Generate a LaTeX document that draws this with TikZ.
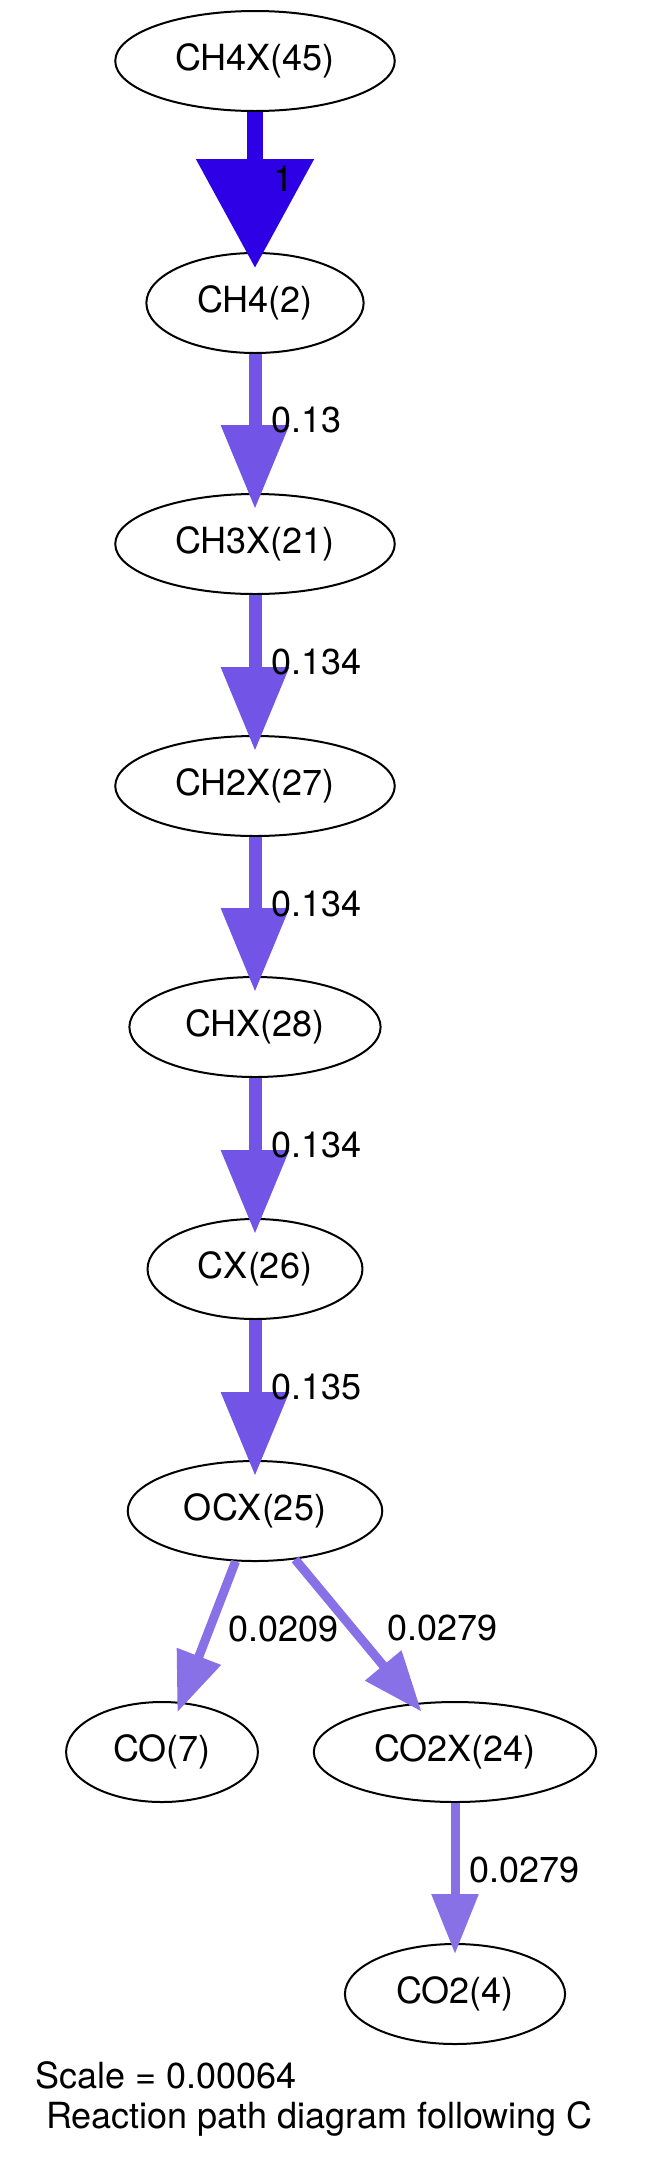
\documentclass[tikz,border=0pt]{standalone}
\usepackage{fontspec}
\setmainfont{TeX Gyre Heros}
\usepackage{tikz}
\usetikzlibrary{positioning,arrows.meta,shapes.geometric}
\definecolor{fluxtop}{HTML}{2E00E6}
\definecolor{fluxmid}{HTML}{7255E6}
\definecolor{fluxlow}{HTML}{8871E6}

\begin{document}
\begin{tikzpicture}[x=1pt,y=-1pt,every node/.style={font=\fontsize{36}{40}\selectfont}]
    \tikzstyle{sp}=[ellipse,draw,line width=2pt,minimum height=100pt,inner xsep=19pt,inner ysep=0pt];
    \tikzstyle{lbl}=[anchor=west,inner sep=0pt,yshift=3pt,black];
    \tikzstyle{flowtop}=[line width=16pt,fluxtop,-{Triangle[length=109pt,width=114pt]},shorten >=-16pt];
    \tikzstyle{flowmid}=[line width=13pt,fluxmid,-{Triangle[length=84pt,width=65pt]},shorten >=-16pt];
    \tikzstyle{flowlow}=[line width=9pt,fluxlow,-{Triangle[length=60pt,width=45pt]},shorten >=-11pt];
    \useasboundingbox (0,0) rectangle (653,2161);
    % --- main chain ---
    \node[sp] (ch4x) at (255,61)   {CH4X(45)};
    \node[sp] (ch4)  at (255,303)  {CH4(2)};
    \node[sp] (ch3x) at (255,544)  {CH3X(21)};
    \node[sp] (ch2x) at (255,786)  {CH2X(27)};
    \node[sp] (chx)  at (255,1027) {CHX(28)};
    \node[sp] (cx)   at (255,1269) {CX(26)};
    \node[sp] (ocx)  at (255,1511) {OCX(25)};
    \draw[flowtop] (ch4x) -- node[lbl,xshift=10pt]{1} (ch4);
    \draw[flowmid] (ch4)  -- node[lbl,xshift=10pt]{0.13} (ch3x);
    \draw[flowmid] (ch3x) -- node[lbl,xshift=10pt]{0.134} (ch2x);
    \draw[flowmid] (ch2x) -- node[lbl,xshift=10pt]{0.134} (chx);
    \draw[flowmid] (chx)  -- node[lbl,xshift=10pt]{0.134} (cx);
    \draw[flowmid] (cx)   -- node[lbl,xshift=10pt]{0.135} (ocx);
    % --- products ---
    \node[sp] (co)   at (162,1752) {CO(7)};
    \node[sp] (co2x) at (455,1752) {CO2X(24)};
    \node[sp] (co2)  at (455,1994) {CO2(4)};
    \draw[flowlow] (ocx)  -- node[lbl,xshift=16pt]{0.0209} (co);
    \draw[flowlow] (ocx)  -- node[lbl,xshift=28pt]{0.0279} (co2x);
    \draw[flowlow] (co2x) -- node[lbl,xshift=10pt]{0.0279} (co2);
    % --- caption ---
    \node[anchor=base west,inner sep=0pt] (scale) at (35,2088) {Scale = 0.00064};
    \node[anchor=base west,inner sep=0pt] (title) at (46,2128) {Reaction path diagram following C};
\end{tikzpicture}
\end{document}
